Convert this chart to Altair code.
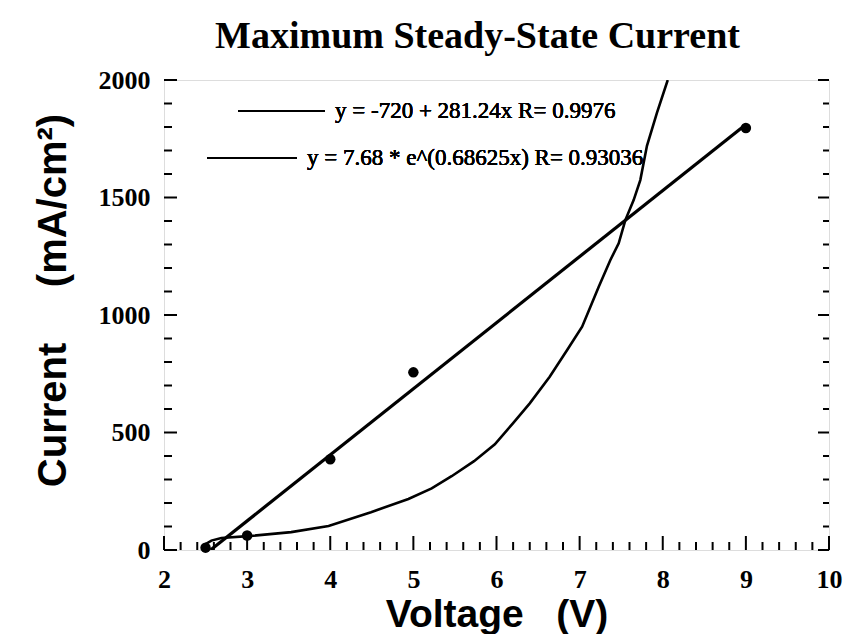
import altair as alt
import pandas as pd

# measured data points
volt = [2.5, 3.0, 4.0, 5.0, 9.0]
curr = [10, 62, 386, 756, 1796]

# linear fit line
lin_v = [2.56, 9.0]
lin_i = [0, 1811]

# exponential fit curve
exp_v = [2.50, 2.57, 2.69, 3.05, 3.53, 3.98, 4.49, 4.94, 5.22, 5.46, 5.73, 5.98,
         6.20, 6.40, 6.64, 6.85, 7.03, 7.13, 7.23, 7.37, 7.47, 7.55, 7.65, 7.73,
         7.81, 7.93, 8.06]
exp_i = [25, 40, 51, 60, 76, 102, 161, 217, 262, 314, 378, 450,
         540, 624, 737, 851, 950, 1035, 1120, 1234, 1305, 1404, 1489, 1574,
         1720, 1860, 2000]

x_major = [2, 3, 4, 5, 6, 7, 8, 9, 10]
x_minor = [2.2, 2.4, 2.6, 2.8, 3.2, 3.4, 3.6, 3.8, 4.2, 4.4, 4.6, 4.8,
           5.2, 5.4, 5.6, 5.8, 6.2, 6.4, 6.6, 6.8, 7.2, 7.4, 7.6, 7.8,
           8.2, 8.4, 8.6, 8.8, 9.2, 9.4, 9.6, 9.8]
y_major = [0, 500, 1000, 1500, 2000]
y_minor = [100, 200, 300, 400, 600, 700, 800, 900, 1100, 1200, 1300, 1400,
           1600, 1700, 1800, 1900]

leg1 = "y = -720 + 281.24x R= 0.9976"
leg2 = "y = 7.68 * e^(0.68625x) R= 0.93036"
NB = "\u00a0"
x_title = "Voltage" + NB * 3 + "(V)"
y_title = "Current" + NB * 5 + "(mA/cm²)"

W, H = 665, 470

xs = alt.Scale(domain=[2, 10], nice=False, zero=False)
ys = alt.Scale(domain=[0, 2000], nice=False)
xaxis = alt.Axis(title=x_title, values=x_major, ticks=False, domain=False, grid=False,
                 labelFont="Liberation Serif", labelFontWeight="bold", labelFontSize=26,
                 labelColor="black", labelPadding=16, labelFlush=False, format="d",
                 titleFont="Liberation Sans", titleFontWeight="bold", titleFontSize=39,
                 titleColor="black", titlePadding=3)
yaxis = alt.Axis(title=y_title, values=y_major, ticks=False, domain=False, grid=False,
                 labelFont="Liberation Serif", labelFontWeight="bold", labelFontSize=26,
                 labelColor="black", labelPadding=14, labelFlush=False, format="d",
                 titleFont="Liberation Sans", titleFontWeight="bold", titleFontSize=40,
                 titleColor="black", titlePadding=25, titleY=220)

X = alt.X("V:Q", scale=xs, axis=xaxis)
Y = alt.Y("I:Q", scale=ys, axis=yaxis)

pts = pd.DataFrame({"V": volt, "I": curr})
lin = pd.DataFrame({"V": lin_v, "I": lin_i})
expc = pd.DataFrame({"V": exp_v, "I": exp_i})

points = alt.Chart(pts).mark_circle(size=110, color="black", opacity=1).encode(x=X, y=Y)
linline = alt.Chart(lin).mark_line(color="black", strokeWidth=3.2, clip=True).encode(x=X, y=Y)
expline = alt.Chart(expc).mark_line(color="black", strokeWidth=2.6, clip=True).encode(x=X, y=Y)

xmaj = alt.Chart(pd.DataFrame({"V": x_major})).mark_rule(color="black", strokeWidth=2).encode(
    x=X, y=alt.value(H), y2=alt.value(H - 14))
xmin = alt.Chart(pd.DataFrame({"V": x_minor})).mark_rule(color="black", strokeWidth=2).encode(
    x=X, y=alt.value(H), y2=alt.value(H - 8))
ylmaj = alt.Chart(pd.DataFrame({"I": y_major})).mark_rule(color="black", strokeWidth=2).encode(
    y=Y, x=alt.value(0), x2=alt.value(13))
ylmin = alt.Chart(pd.DataFrame({"I": y_minor})).mark_rule(color="black", strokeWidth=2).encode(
    y=Y, x=alt.value(0), x2=alt.value(8))
yrmaj = alt.Chart(pd.DataFrame({"I": y_major})).mark_rule(color="black", strokeWidth=2).encode(
    y=Y, x=alt.value(W), x2=alt.value(W - 11))
yrmin = alt.Chart(pd.DataFrame({"I": y_minor})).mark_rule(color="black", strokeWidth=2).encode(
    y=Y, x=alt.value(W), x2=alt.value(W - 6))

l1r = alt.Chart(pts).mark_rule(color="black", strokeWidth=2).encode(
    x=alt.value(74), x2=alt.value(161), y=alt.value(31))
l1t = alt.Chart(pts).mark_text(align="left", baseline="middle", font="Liberation Serif",
                               fontSize=23, color="black").encode(
    x=alt.value(171), y=alt.value(31), text=alt.value(leg1))
l2r = alt.Chart(pts).mark_rule(color="black", strokeWidth=2).encode(
    x=alt.value(43), x2=alt.value(133), y=alt.value(78))
l2t = alt.Chart(pts).mark_text(align="left", baseline="middle", font="Liberation Serif",
                               fontSize=23, color="black").encode(
    x=alt.value(143), y=alt.value(78), text=alt.value(leg2))

chart = alt.layer(
    xmaj, xmin, ylmaj, ylmin, yrmaj, yrmin,
    linline, expline, points, l1r, l1t, l2r, l2t
).properties(
    width=W, height=H,
    title=alt.TitleParams("Maximum Steady-State Current", font="Liberation Serif",
                          fontWeight="bold", fontSize=38, color="black", offset=11,
                          anchor="middle", dx=-19),
    autosize=alt.AutoSizeParams(type="none"),
    padding={"left": 156, "top": 72, "right": 14, "bottom": 84},
).configure_view(stroke="black", strokeWidth=2.6).configure(background="white")

chart.save("out.html", embed_options={"renderer": "svg", "actions": False})
